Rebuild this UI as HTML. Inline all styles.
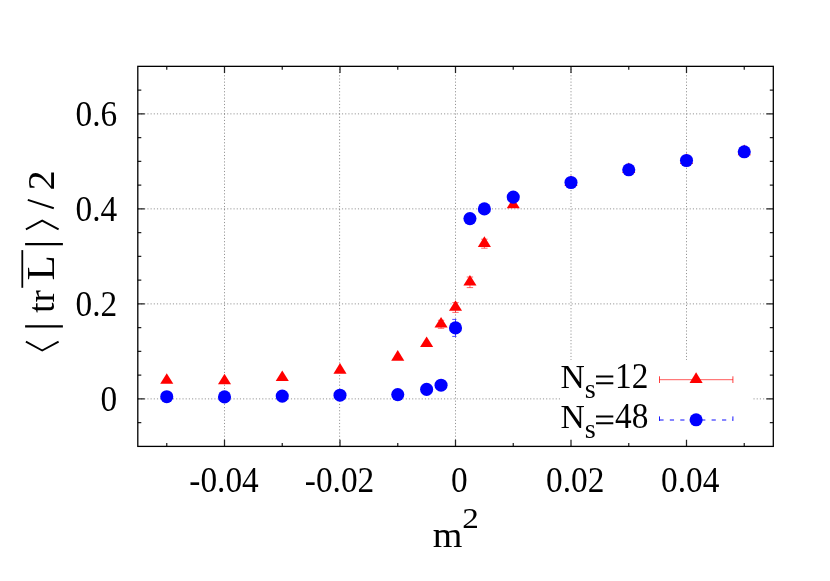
<!DOCTYPE html>
<html><head><meta charset="utf-8"><title>plot</title>
<style>html,body{margin:0;padding:0;background:#fff;}svg{display:block;}svg{will-change:transform;}.t{filter:grayscale(1);}text{font-family:"Liberation Serif",serif;fill:#000;}</style>
</head><body>
<svg width="830" height="581" viewBox="0 0 830 581">
<rect x="0" y="0" width="830" height="581" fill="#fff"/>
<g stroke="#000" stroke-width="0.75" stroke-dasharray="1.15 2.04" fill="none" stroke-opacity="0.56">
<path d="M224.50 446.40 V66.35"/>
<path d="M339.60 446.40 V66.35"/>
<path d="M455.50 446.40 V66.35"/>
<path d="M571.00 446.40 V66.35"/>
<path d="M686.50 446.40 V66.35"/>
<path d="M137.80 398.89 H773.30"/>
<path d="M137.80 303.88 H773.30"/>
<path d="M137.80 208.87 H773.30"/>
<path d="M137.80 113.86 H773.30"/>
</g>
<g stroke="#ff0000" stroke-width="0.6" fill="none">
<path d="M441.06 320.30 V328.30 M437.86 320.30 h6.40 M437.86 328.30 h6.40"/>
<path d="M455.50 302.60 V312.40 M452.30 302.60 h6.40 M452.30 312.40 h6.40"/>
<path d="M469.94 277.00 V287.60 M466.74 277.00 h6.40 M466.74 287.60 h6.40"/>
<path d="M484.38 239.20 V248.20 M481.18 239.20 h6.40 M481.18 248.20 h6.40"/>
</g>
<g fill="#ff0000" stroke="none">
<path d="M166.75 373.16 L160.20 383.77 L173.30 383.77 Z"/>
<path d="M224.50 373.66 L217.95 384.27 L231.05 384.27 Z"/>
<path d="M282.25 370.46 L275.70 381.07 L288.80 381.07 Z"/>
<path d="M340.00 363.06 L333.45 373.67 L346.55 373.67 Z"/>
<path d="M397.75 350.06 L391.20 360.67 L404.30 360.67 Z"/>
<path d="M426.62 336.46 L420.07 347.07 L433.18 347.07 Z"/>
<path d="M441.06 316.96 L434.51 327.57 L447.61 327.57 Z"/>
<path d="M455.50 300.16 L448.95 310.77 L462.05 310.77 Z"/>
<path d="M469.94 274.96 L463.39 285.57 L476.49 285.57 Z"/>
<path d="M484.38 236.36 L477.82 246.97 L490.93 246.97 Z"/>
<path d="M513.25 197.66 L506.70 208.28 L519.80 208.28 Z"/>
<path d="M571.00 175.26 L564.45 185.88 L577.55 185.88 Z"/>
<path d="M628.75 162.46 L622.20 173.08 L635.30 173.08 Z"/>
<path d="M686.50 153.26 L679.95 163.88 L693.05 163.88 Z"/>
<path d="M744.25 144.56 L737.70 155.18 L750.80 155.18 Z"/>
</g>
<g stroke="#0000ff" stroke-width="0.7" fill="none">
<path d="M455.50 319.40 V336.40 M452.25 319.40 h4.2 M452.25 336.40 h4.2"/>
</g>
<g fill="#0000ff" stroke="none">
<circle cx="166.75" cy="396.70" r="6.55"/>
<circle cx="224.50" cy="396.90" r="6.55"/>
<circle cx="282.25" cy="396.10" r="6.55"/>
<circle cx="340.00" cy="395.20" r="6.55"/>
<circle cx="397.75" cy="394.60" r="6.55"/>
<circle cx="426.62" cy="389.40" r="6.55"/>
<circle cx="441.06" cy="385.20" r="6.55"/>
<circle cx="455.50" cy="327.90" r="6.55"/>
<circle cx="469.94" cy="218.60" r="6.55"/>
<circle cx="484.38" cy="208.90" r="6.55"/>
<circle cx="513.25" cy="197.10" r="6.55"/>
<circle cx="571.00" cy="182.50" r="6.55"/>
<circle cx="628.75" cy="169.80" r="6.55"/>
<circle cx="686.50" cy="160.50" r="6.55"/>
<circle cx="744.25" cy="151.80" r="6.55"/>
</g>
<rect x="560" y="360" width="193" height="85.5" fill="#fff"/>
<g stroke="#ff0000" stroke-width="0.65" fill="none"><path d="M659.4 379.7 H732.9"/><path stroke-width="0.75" d="M659.5 376.3 v6.7 M732.9 376.3 v6.7"/></g>
<g fill="#ff0000"><path d="M696.10 372.26 L689.55 382.88 L702.65 382.88 Z"/></g>
<g stroke="#0000ff" stroke-width="0.95" fill="none"><path d="M659.4 420.0 H732.9" stroke-dasharray="4.2 6.24"/><path stroke-width="0.9" d="M659.5 416.4 v4.5 M732.9 416.4 v4.5"/></g>
<g fill="#0000ff"><circle cx="696.1" cy="419.8" r="6.55"/></g>
<g stroke="#222" stroke-width="1.25" fill="none">
<path d="M166.75 446.40 v-3.40 M166.75 66.35 v3.40"/>
<path d="M224.50 446.40 v-6.70 M224.50 66.35 v6.70"/>
<path d="M282.25 446.40 v-3.40 M282.25 66.35 v3.40"/>
<path d="M340.00 446.40 v-6.70 M340.00 66.35 v6.70"/>
<path d="M397.75 446.40 v-3.40 M397.75 66.35 v3.40"/>
<path d="M455.50 446.40 v-6.70 M455.50 66.35 v6.70"/>
<path d="M513.25 446.40 v-3.40 M513.25 66.35 v3.40"/>
<path d="M571.00 446.40 v-6.70 M571.00 66.35 v6.70"/>
<path d="M628.75 446.40 v-3.40 M628.75 66.35 v3.40"/>
<path d="M686.50 446.40 v-6.70 M686.50 66.35 v6.70"/>
<path d="M744.25 446.40 v-3.40 M744.25 66.35 v3.40"/>
<path d="M137.80 422.65 h3.50 M773.30 422.65 h-3.50"/>
<path d="M137.80 398.89 h6.90 M773.30 398.89 h-6.90"/>
<path d="M137.80 375.14 h3.50 M773.30 375.14 h-3.50"/>
<path d="M137.80 351.39 h3.50 M773.30 351.39 h-3.50"/>
<path d="M137.80 327.63 h3.50 M773.30 327.63 h-3.50"/>
<path d="M137.80 303.88 h6.90 M773.30 303.88 h-6.90"/>
<path d="M137.80 280.13 h3.50 M773.30 280.13 h-3.50"/>
<path d="M137.80 256.38 h3.50 M773.30 256.38 h-3.50"/>
<path d="M137.80 232.62 h3.50 M773.30 232.62 h-3.50"/>
<path d="M137.80 208.87 h6.90 M773.30 208.87 h-6.90"/>
<path d="M137.80 185.12 h3.50 M773.30 185.12 h-3.50"/>
<path d="M137.80 161.36 h3.50 M773.30 161.36 h-3.50"/>
<path d="M137.80 137.61 h3.50 M773.30 137.61 h-3.50"/>
<path d="M137.80 113.86 h6.90 M773.30 113.86 h-6.90"/>
<path d="M137.80 90.10 h3.50 M773.30 90.10 h-3.50"/>
</g>
<rect x="137.80" y="66.35" width="635.50" height="380.05" fill="none" stroke="#000" stroke-width="1.3"/>
<g class="t">
<text transform="translate(117.20 126.26) scale(0.9530 1)" font-size="35.00px" text-anchor="end">0.6</text>
<text transform="translate(117.20 221.27) scale(0.9530 1)" font-size="35.00px" text-anchor="end">0.4</text>
<text transform="translate(117.20 316.28) scale(0.9530 1)" font-size="35.00px" text-anchor="end">0.2</text>
<text transform="translate(117.20 411.29) scale(0.9530 1)" font-size="35.00px" text-anchor="end">0</text>
<text transform="translate(224.00 491.60) scale(0.9530 1)" font-size="35.00px" text-anchor="middle">-0.04</text>
<text transform="translate(339.50 491.60) scale(0.9530 1)" font-size="35.00px" text-anchor="middle">-0.02</text>
<text transform="translate(459.30 491.60) scale(0.9530 1)" font-size="35.00px" text-anchor="middle">0</text>
<text transform="translate(575.20 491.60) scale(0.9530 1)" font-size="35.00px" text-anchor="middle">0.02</text>
<text transform="translate(690.20 491.60) scale(0.9530 1)" font-size="35.00px" text-anchor="middle">0.04</text>
<text transform="translate(560.40 387.90) scale(1.0000 1)" font-size="33.60px" text-anchor="start">N</text>
<text transform="translate(584.80 398.30) scale(1.0500 1)" font-size="27.00px" text-anchor="start">s</text>
<path d="M596.0 376.50 H613.3 M596.0 383.20 H613.3" stroke="#000" stroke-width="2.15" fill="none"/>
<text transform="translate(615.00 387.90) scale(0.9530 1)" font-size="35.00px" text-anchor="start">12</text>
<text transform="translate(560.40 427.90) scale(1.0000 1)" font-size="33.60px" text-anchor="start">N</text>
<text transform="translate(584.80 438.30) scale(1.0500 1)" font-size="27.00px" text-anchor="start">s</text>
<path d="M596.0 416.50 H613.3 M596.0 423.20 H613.3" stroke="#000" stroke-width="2.15" fill="none"/>
<text transform="translate(615.00 427.90) scale(0.9530 1)" font-size="35.00px" text-anchor="start">48</text>
</g>
<g class="t">
<text transform="translate(432.8 546.8) scale(1.096 1)" font-size="34.8px">m</text>
<text transform="translate(462.2 527.9) scale(1.117 1)" font-size="29.7px">2</text>
</g>
<g class="t" transform="translate(53.9 0) rotate(-90)">
<g stroke="#000" fill="none" stroke-linecap="butt">
<path stroke-width="1.9" d="M-341.70 -28.00 L-350.50 -11.70 L-341.70 4.70"/>
<path stroke-width="2.3" d="M-326.30 -28.80 V9.00"/>
<path stroke-width="2.3" d="M-244.20 -28.80 V9.00"/>
<path stroke-width="1.9" d="M-229.40 -28.00 L-220.60 -11.70 L-229.40 4.70"/>
<path stroke-width="1.8" d="M-287.80 -31.60 H-250.10"/>
</g>
<text transform="translate(-312.80 0) scale(0.96 1)" font-size="38.5px">tr</text>
<text transform="translate(-280.60 0) scale(1.05 1)" font-size="39.2px">L</text>
<path stroke="#000" stroke-width="2.0" fill="none" d="M-199.90 -26.10 L-208.30 -0.10"/>
<text transform="translate(-190.50 0) scale(1.045 1)" font-size="38.6px">2</text>
</g>
</svg>
</body></html>
